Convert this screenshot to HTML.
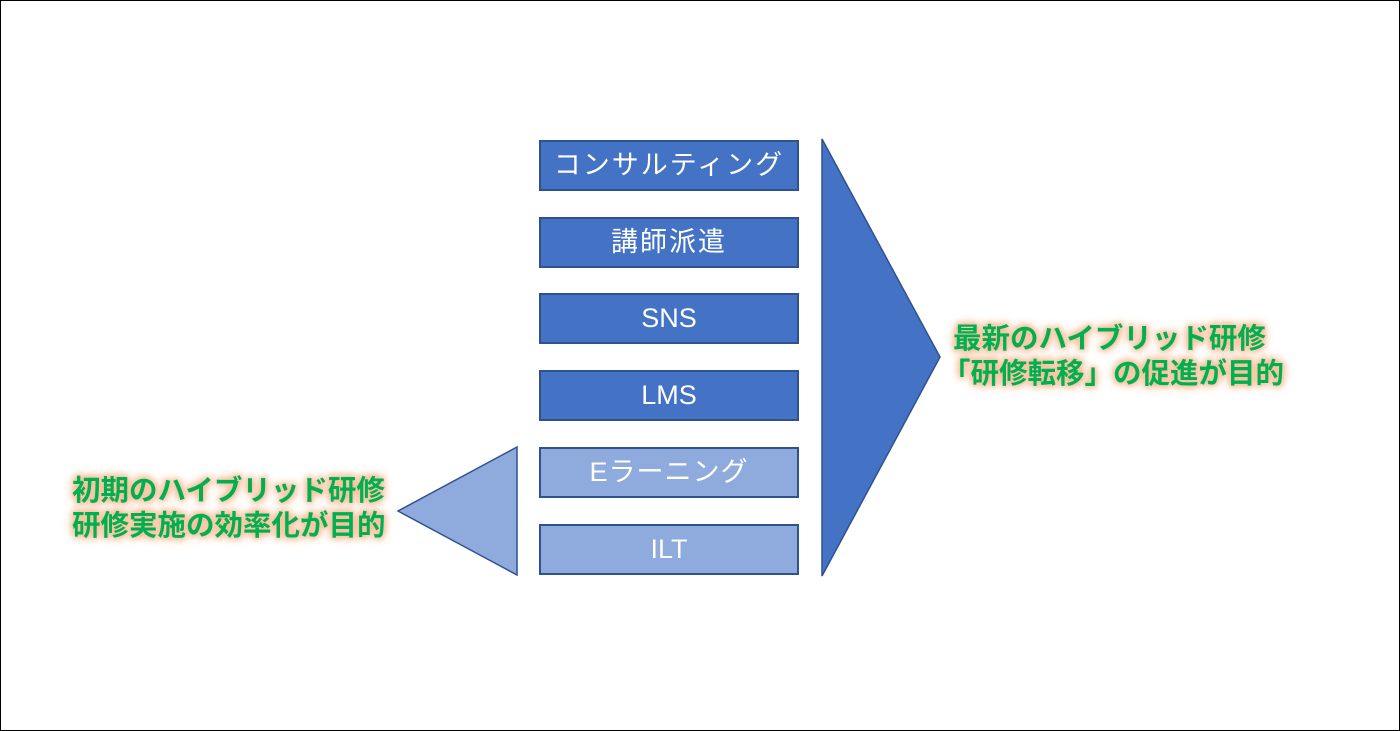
<!DOCTYPE html>
<html>
<head>
<meta charset="utf-8">
<style>
  html,body{margin:0;padding:0;}
  body{width:1400px;height:731px;position:relative;background:#fff;overflow:hidden;}
  .frame{position:absolute;left:0;top:0;width:1398px;height:729px;border:1px solid #000;}
  .box{position:absolute;left:539px;width:256px;height:47px;border:2px solid #2F528F;background:#4472C4;color:#fff;
       font-family:"Liberation Sans","Noto Sans CJK JP",sans-serif;font-size:27px;line-height:47px;text-align:center;}
  .light{background:#8FAADC;}
  .glow{position:absolute;font-family:"Liberation Sans","Noto Sans CJK JP",sans-serif;font-weight:bold;font-size:28.5px;line-height:35px;color:#00B050;white-space:nowrap;
       text-shadow:0 0 4px #F8CBAD,0 0 6px #F4B183,0 0 9px #F4B183,0 0 12px #F8CBAD;}
</style>
</head>
<body>
<div class="frame"></div>

<div class="box" style="top:140px;letter-spacing:2px;">コンサルティング</div>
<div class="box" style="top:217px;letter-spacing:2px;">講師派遣</div>
<div class="box" style="top:293px;">SNS</div>
<div class="box" style="top:370px;">LMS</div>
<div class="box light" style="top:447px;letter-spacing:1px;">Eラーニング</div>
<div class="box light" style="top:524px;">ILT</div>

<svg width="1400" height="731" style="position:absolute;left:0;top:0;">
  <polygon points="822,139 940,357 822,576" fill="#4472C4" stroke="#2F528F" stroke-width="1.5"/>
  <polygon points="517,447 398,511 517,575" fill="#8FAADC" stroke="#2F528F" stroke-width="1.5"/>
</svg>

<div class="glow" style="left:953px;top:322px;">最新のハイブリッド研修<br><span style="margin-left:-11px;">「研修転移」の促進が目的</span></div>
<div class="glow" style="left:72px;top:474px;">初期のハイブリッド研修<br>研修実施の効率化が目的</div>
</body>
</html>
